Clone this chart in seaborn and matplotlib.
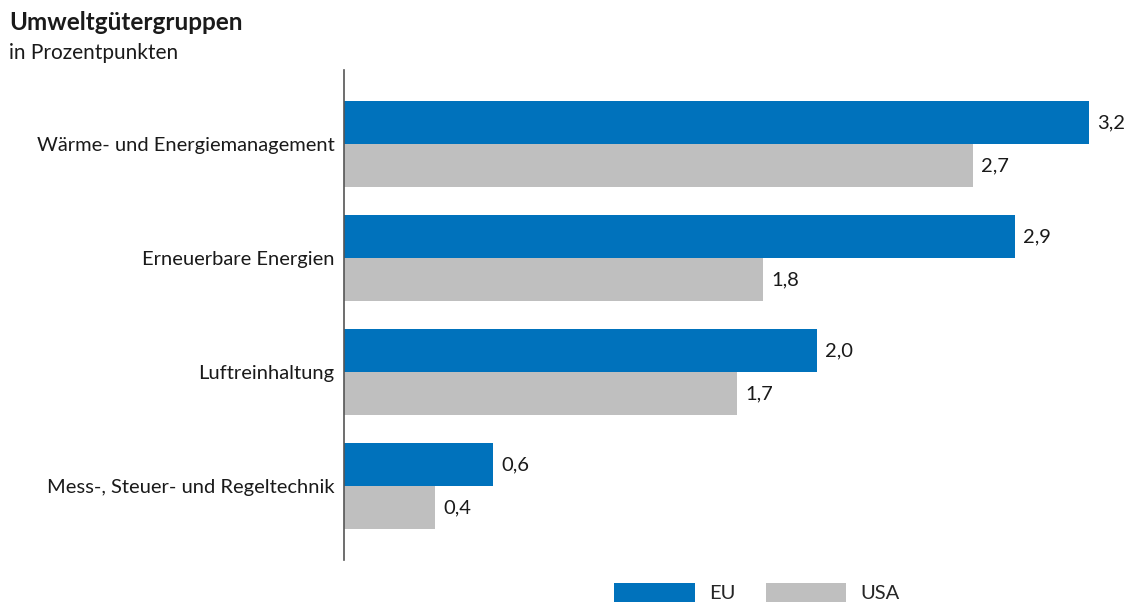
import pandas as pd
import numpy as np

import seaborn as sns
import matplotlib.pyplot as plt

categories = ['Wärme- und Energiemanagement', 'Erneuerbare Energien',
              'Luftreinhaltung', 'Mess-, Steuer- und Regeltechnik']
# bar lengths (labels are rounded)
eu_values = [3.20, 2.88, 2.03, 0.64]
usa_values = [2.70, 1.80, 1.69, 0.39]
eu_labels = ['3,2', '2,9', '2,0', '0,6']
usa_labels = ['2,7', '1,8', '1,7', '0,4']
series = ['EU', 'USA']

df = pd.DataFrame({
    'gruppe': categories * 2,
    'wert': eu_values + usa_values,
    'region': ['EU'] * 4 + ['USA'] * 4,
})

sns.set_style('white')
plt.rcParams['font.family'] = ['Lato', 'DejaVu Sans']

fig = plt.figure(figsize=(11.3, 6.04), dpi=100)
ax = fig.add_axes([344 / 1130, 44 / 604, (1130 - 344) / 1130, 490 / 604])

sns.barplot(data=df, y='gruppe', x='wert', hue='region', order=categories,
            hue_order=series, palette=['#0072BC', '#BFBFBF'],
            width=0.755, saturation=1, linewidth=0, ax=ax, legend=True)

ax.set_xlim(0, 3.376)
ax.set_ylim(3.649, -0.649)
ax.set_xlabel('')
ax.set_ylabel('')
ax.set_xticks([])
ax.tick_params(axis='y', length=0, pad=7, labelsize=14.5, labelcolor='#1a1a1a')

for s in ['top', 'right', 'bottom']:
    ax.spines[s].set_visible(False)
ax.spines['left'].set_color('#555555')
ax.spines['left'].set_linewidth(1.2)

for cont, labs in zip(ax.containers, [eu_labels, usa_labels]):
    ax.bar_label(cont, labels=labs, padding=6, fontsize=14.5, color='#1a1a1a')

ax.legend(loc='lower center', bbox_to_anchor=(757 / 1130, -0.014),
          bbox_transform=fig.transFigure, ncol=2, frameon=False,
          handlelength=4.0, handleheight=1.05, handletextpad=0.7,
          columnspacing=1.5, fontsize=14.5, borderpad=0)

fig.text(9 / 1130, 1 - 30 / 604, 'Umweltgütergruppen', fontsize=17.5,
         fontweight='bold', color='#1a1a1a', va='baseline')
fig.text(9 / 1130, 1 - 59 / 604, 'in Prozentpunkten', fontsize=15,
         color='#1a1a1a', va='baseline')

fig.savefig('out.png', dpi=100)
